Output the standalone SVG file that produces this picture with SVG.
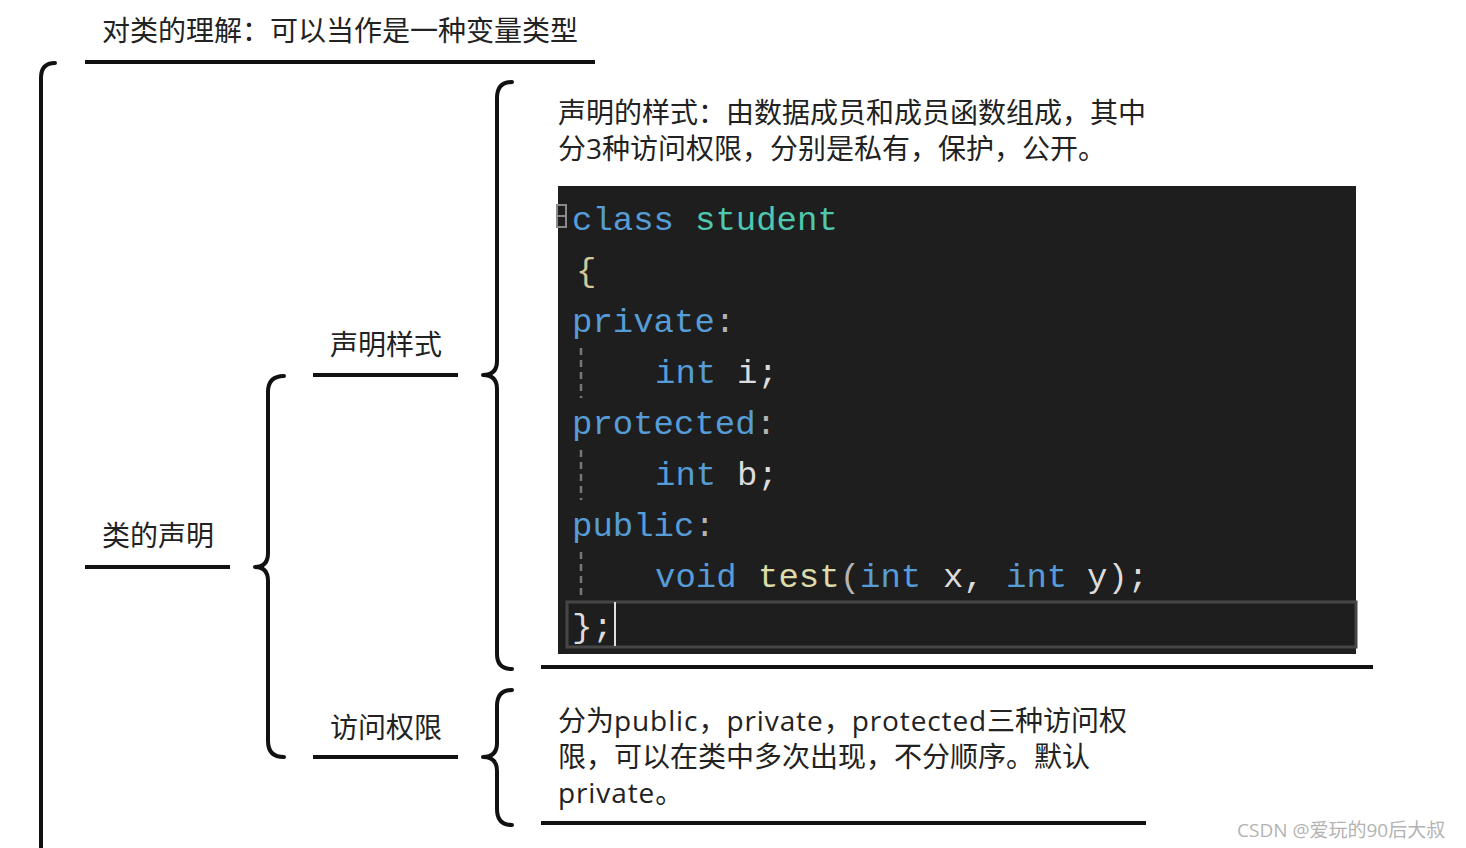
<svg xmlns="http://www.w3.org/2000/svg" width="1466" height="848" viewBox="0 0 1466 848">
<style>
.t{font-family:"Open Sans","Noto Sans CJK SC",sans-serif;font-size:28px;fill:#222}
.lat{letter-spacing:0.9px}
.ln{stroke:#111;stroke-width:4;fill:none;stroke-linecap:butt}
.br{stroke:#111;stroke-width:4;fill:none;stroke-linecap:round;stroke-linejoin:round}
.code{font-family:"Liberation Mono","DejaVu Sans Mono",monospace;font-size:34px}
.kw{fill:#569cd6}.ty{fill:#4ec9b0}.fn{fill:#dcdcaa}.pl{fill:#dcdcdc}.pn{fill:#b4b4b4}.bc{fill:#d4c79a}
.guide{stroke:#777;stroke-width:2.5;stroke-dasharray:7 5}
.wm{font-family:"Open Sans","Noto Sans CJK SC",sans-serif;font-size:19px;fill:#b3b3b3}
</style>
<rect width="1466" height="848" fill="#fff"/>

<g id="connectors">
<path class="br" d="M55,63 Q41,63 41,78 L41,852"/>
<path class="br" d="M284,376 Q268,376 268,392 L268,553 Q268,567 255,567 Q268,567 268,581 L268,741 Q268,757 284,757"/>
<path class="br" d="M512,82 Q497,82 497,98 L497,361 Q497,375 483,375 Q497,375 497,389 L497,654 Q497,669 512,669"/>
<path class="br" d="M512,690 Q497,690 497,706 L497,743 Q497,757 483,757 Q497,757 497,771 L497,809 Q497,825 512,825"/>
</g>

<g id="node-title">
<text class="t" x="102" y="41">对类的理解：可以当作是一种变量类型</text>
<line class="ln" x1="85" y1="62" x2="595" y2="62"/>
</g>

<g id="node-class-decl">
<text class="t" x="102" y="546">类的声明</text>
<line class="ln" x1="85" y1="567" x2="230" y2="567"/>
</g>

<g id="node-decl-style">
<text class="t" x="330" y="355">声明样式</text>
<line class="ln" x1="313" y1="375" x2="458" y2="375"/>
</g>

<g id="node-access">
<text class="t" x="330" y="738">访问权限</text>
<line class="ln" x1="313" y1="757" x2="458" y2="757"/>
</g>

<g id="node-decl-desc">
<text class="t" x="558" y="123">声明的样式：由数据成员和成员函数组成，其中<tspan x="558" dy="36">分3种访问权限，分别是私有，保护，公开。</tspan></text>
<rect x="558" y="186" width="798" height="468" fill="#1e1e1e"/>
<rect x="567" y="602" width="789" height="45" fill="none" stroke="#464646" stroke-width="3"/>
<rect x="557" y="205" width="9" height="22" fill="none" stroke="#8a8a8a" stroke-width="2"/>
<line x1="558" y1="216" x2="565" y2="216" stroke="#8a8a8a" stroke-width="2"/>
<line class="guide" x1="581" y1="348" x2="581" y2="398"/>
<line class="guide" x1="581" y1="450" x2="581" y2="500"/>
<line class="guide" x1="581" y1="552" x2="581" y2="600"/>
<text class="code" x="572" y="230"><tspan class="kw">class</tspan><tspan class="ty" x="695">student</tspan></text>
<text class="code bc" x="576" y="281">{</text>
<text class="code" x="572" y="332"><tspan class="kw">private</tspan><tspan class="pn">:</tspan></text>
<text class="code" x="655" y="383"><tspan class="kw">int</tspan><tspan class="pl" x="737">i;</tspan></text>
<text class="code" x="572" y="434"><tspan class="kw">protected</tspan><tspan class="pn">:</tspan></text>
<text class="code" x="655" y="485"><tspan class="kw">int</tspan><tspan class="pl" x="737">b;</tspan></text>
<text class="code" x="572" y="536"><tspan class="kw">public</tspan><tspan class="pn">:</tspan></text>
<text class="code" x="655" y="587"><tspan class="kw">void</tspan><tspan class="fn" x="758">test</tspan><tspan class="pn">(</tspan><tspan class="kw">int</tspan><tspan class="pl" x="943">x,</tspan><tspan class="kw" x="1006">int</tspan><tspan class="pl" x="1087">y);</tspan></text>
<text class="code pl" x="572" y="637">};</text>
<line x1="615" y1="602" x2="615" y2="646" stroke="#e0e0e0" stroke-width="2"/>
<line class="ln" x1="541" y1="667" x2="1373" y2="667"/>
</g>

<g id="node-access-desc">
<text class="t" x="558" y="731">分为<tspan class="lat">public</tspan>，<tspan class="lat">private</tspan>，<tspan class="lat">protected</tspan>三种访问权<tspan x="558" dy="36">限，可以在类中多次出现，不分顺序。默认</tspan><tspan x="558" dy="36" class="lat">private</tspan>。</text>
<line class="ln" x1="541" y1="823" x2="1146" y2="823"/>
</g>

<text class="wm" x="1237" y="837">CSDN @爱玩的90后大叔</text>
</svg>
